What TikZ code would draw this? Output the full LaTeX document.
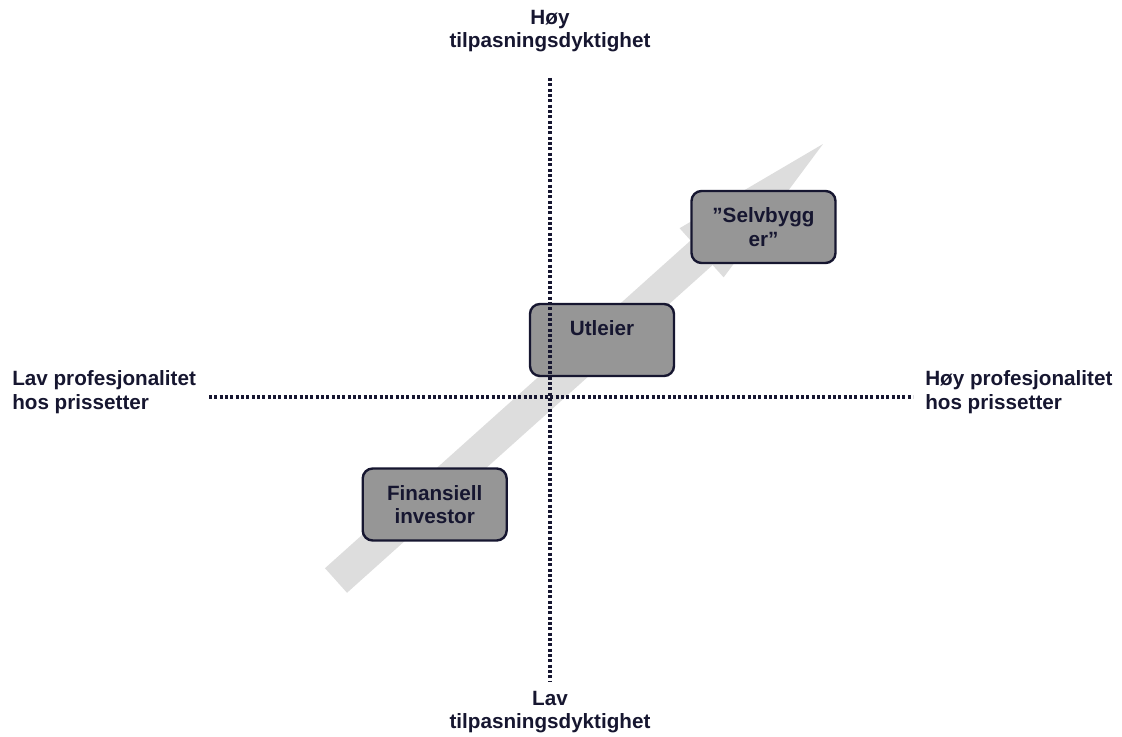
\documentclass[tikz,border=0pt]{standalone}
\usepackage{fontspec}
\setmainfont{Liberation Sans}
\usepackage{tikz}
\usetikzlibrary{positioning}
\definecolor{navy}{RGB}{22,22,48}
\definecolor{boxgray}{RGB}{150,150,150}
\definecolor{arrowgray}{RGB}{221,221,221}

\begin{document}
\begin{tikzpicture}[x=0.75pt,y=0.75pt]
        \tikzstyle{every node}+=[inner sep=0pt, text=navy, font=\bfseries\fontsize{15.5}{17.5}\selectfont]
        \tikzstyle{axis}=[navy, line width=2.3pt, dash pattern=on 2.3pt off 1.7pt]
        \tikzstyle{actor}=[draw=navy, fill=boxgray, line width=1.8pt, rounded corners=7.5pt, minimum width=108pt, minimum height=54pt, align=center]
        \useasboundingbox (0,0) rectangle (1122,-737);
        % big grey trend arrow
        \fill [arrowgray, shift={(336,-580.5)}, rotate=41.87] (0,16.5) -- (491,16.5) -- (491,33) -- (654,0) -- (491,-33) -- (491,-16.5) -- (0,-16.5) -- cycle;
        % actors
        \node [actor] (selvbygger) at (763.5,-227) {”Selvbygg\\er”};
        \node [actor] (utleier) at (602,-340) {Utleier\\\mbox{}};
        \node [actor] (finansiell) at (434.7,-504.5) {Finansiell\\investor};
        % axes
        \coordinate (top) at (550,-78);
        \coordinate (bottom) at (550,-682);
        \coordinate (left) at (209,-397);
        \coordinate (right) at (913,-397);
        \draw [axis] (top) -- (bottom);
        \draw [axis] (left) -- (right);
        % axis labels
        \node [align=center] (hoytilp) at (550,-31) {Høy\\tilpasningsdyktighet};
        \node [align=center] (lavtilp) at (550,-712) {Lav\\tilpasningsdyktighet};
        \node [align=left, anchor=west] (lavprof) at (12,-392) {Lav profesjonalitet\\hos prissetter};
        \node [align=left, anchor=west] (hoyprof) at (925,-392) {Høy profesjonalitet\\hos prissetter};
\end{tikzpicture}
\end{document}
